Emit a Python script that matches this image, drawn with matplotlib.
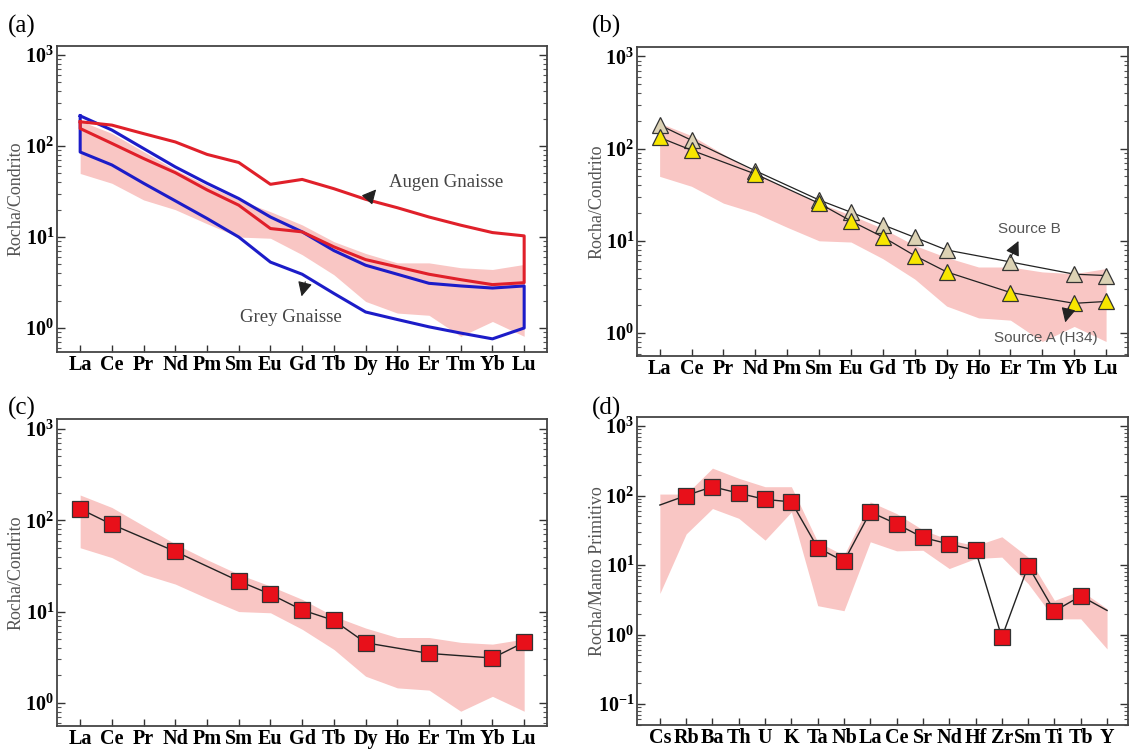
import numpy as np
import matplotlib
matplotlib.use('Agg')
import matplotlib.pyplot as plt
from matplotlib.ticker import LogLocator, NullFormatter

plt.rcParams['font.family'] = 'Liberation Serif'
plt.rcParams['mathtext.fontset'] = 'custom'
plt.rcParams['mathtext.rm'] = 'Liberation Serif'
plt.rcParams['mathtext.bf'] = 'Liberation Serif:bold'
plt.rcParams['mathtext.it'] = 'Liberation Serif:italic'

# DADOS ---------------------
ree = ['La', 'Ce', 'Pr', 'Nd', 'Pm', 'Sm', 'Eu', 'Gd', 'Tb', 'Dy', 'Ho', 'Er', 'Tm', 'Yb', 'Lu']

# campo rosa (mesmo em a, b, c)
faixa_sup = [189, 138, 87, 55, 37, 25.6, 19, 13.6, 8.9, 6.6, 5.2, 5.2, 4.6, 4.4, 5.0]
faixa_inf = [50, 39, 25.6, 20, 14, 10, 9.7, 6.4, 3.85, 1.96, 1.46, 1.38, 0.81, 1.18, 0.81]

# (a) campos dos gnaisses
augen_sup = [185, 170, 137, 111, 81, 66, 38, 43, 34, 26, 21, 16.6, 13.5, 11.2, 10.3]
augen_inf = [156, 107, 73, 51, 33, 22.4, 12.4, 11.4, 7.8, 5.65, 4.7, 3.9, 3.4, 3.0, 3.15]
grey_sup = [215, 150, 94, 59, 39, 26.5, 16.6, 11.4, 7.1, 4.9, 3.9, 3.1, 2.9, 2.75, 2.9]
grey_inf = [86, 62, 39, 25, 16, 10, 5.3, 3.9, 2.4, 1.5, 1.24, 1.03, 0.88, 0.76, 1.0]

# (b) fontes
idx_amostra = [0, 1, 3, 5, 6, 7, 8, 9, 11, 13, 14]
fonte_b = [180, 123, 57.5, 27.7, 20.4, 14.9, 10.9, 7.95, 5.9, 4.35, 4.2]
fonte_a = [132, 96, 53, 25.5, 16.4, 11, 6.9, 4.6, 2.75, 2.1, 2.2]

# (c) amostra
amostra_c = [133, 90, 45.5, 21.6, 15.5, 10.4, 8.0, 4.55, 3.48, 3.1, 4.6]

# (d) multielementar
elem = ['Cs', 'Rb', 'Ba', 'Th', 'U', 'K', 'Ta', 'Nb', 'La', 'Ce', 'Sr', 'Nd', 'Hf', 'Zr', 'Sm', 'Ti', 'Tb', 'Y']
amostra_d = [73, 100, 134, 108, 88, 81, 17.7, 11.3, 58, 39, 24.9, 20, 16.3, 0.91, 9.7, 2.17, 3.58, 2.22]
faixa_d_sup = [105, 105, 248, 177, 134, 134, 21.5, 13.8, 81, 55, 32, 23, 19, 25.5, 13, 3.1, 4.3, 2.35]
faixa_d_inf = [3.9, 28, 65, 47, 22.8, 58, 2.6, 2.2, 21.6, 16, 16.3, 8.9, 12.4, 13, 5.4, 1.68, 1.68, 0.62]

ROSA = '#f9c6c4'
VERM = '#e0202a'
AZUL = '#1c1cc8'


def estilo(ax, etiquetas, xlim, ylim, decadas, ylabel, xlab):
    ax.set_yscale('log')
    x = np.arange(len(etiquetas))
    ax.set_xticks(x)
    ax.set_xticklabels(etiquetas, fontweight='bold', fontsize=14.5)
    ax.set_xlim(*xlim)
    ax.set_ylim(*ylim)
    ax.set_yticks(decadas)
    ax.set_yticklabels([r'$\mathbf{10^{%d}}$' % int(round(np.log10(d))) for d in decadas], fontsize=14.5)
    ax.yaxis.set_minor_locator(LogLocator(base=10, subs=np.arange(2, 10), numticks=30))
    ax.yaxis.set_minor_formatter(NullFormatter())
    ax.tick_params(axis='x', direction='in', length=5, width=1, color='#333', pad=2.5)
    ax.tick_params(axis='y', which='major', direction='in', length=6, width=1, color='#333',
                   right=True, pad=2)
    ax.tick_params(axis='y', which='minor', direction='in', length=3, width=0.8, color='#555',
                   right=True)
    for s in ax.spines.values():
        s.set_color('#444')
        s.set_linewidth(1.3)
    ax.text(xlab, 0.5, ylabel, transform=ax.transAxes, rotation=90, ha='center', va='center',
            color='#555', fontsize=13)


def seta(ax, cauda, ponta):
    ax.annotate('', xy=ponta, xytext=cauda,
                arrowprops=dict(arrowstyle='-|>', color='#222', lw=0.8, mutation_scale=22))


fig = plt.figure(figsize=(11.29, 7.53), dpi=100)
ax_a = fig.add_axes([0.0505, 0.5325, 0.434, 0.4064])
ax_b = fig.add_axes([0.5642, 0.5272, 0.435, 0.410])
ax_c = fig.add_axes([0.0505, 0.0360, 0.434, 0.4077])
ax_d = fig.add_axes([0.5642, 0.0372, 0.435, 0.409])

xr = np.arange(len(ree))

# (a)
ax_a.fill_between(xr, faixa_inf, faixa_sup, color=ROSA, lw=0)
ax_a.plot(np.r_[xr, xr[::-1], xr[0]], np.r_[grey_sup, grey_inf[::-1], grey_sup[0]],
          color=AZUL, lw=2.2)
ax_a.plot(np.r_[xr, xr[::-1], xr[0]], np.r_[augen_sup, augen_inf[::-1], augen_sup[0]],
          color=VERM, lw=2.2)
seta(ax_a, (9.07, 26.2), (9.39, 35.2))
ax_a.text(9.75, 40, 'Augen Gnaisse', color='#444', fontsize=13.5, va='center')
seta(ax_a, (7.12, 3.45), (6.96, 2.08))
ax_a.text(5.03, 1.31, 'Grey Gnaisse', color='#444', fontsize=13.5, va='center')
estilo(ax_a, ree, (-0.73, 14.72), (10**-0.264, 10**3.1), [1, 10, 100, 1000], 'Rocha/Condrito', -0.084)

# (b)
ax_b.fill_between(xr, faixa_inf, faixa_sup, color=ROSA, lw=0)
xs = np.array(idx_amostra)
ax_b.plot(xs, fonte_b, color='#222', lw=0.9, marker='^', ms=11, mfc='#dcd2b4', mec='#333', mew=0.9)
ax_b.plot(xs, fonte_a, color='#222', lw=0.9, marker='^', ms=11, mfc='#f7e600', mec='#333', mew=0.9)
seta(ax_b, (10.97, 6.18), (11.29, 10.6))
ax_b.text(10.6, 13.3, 'Source B', color='#555', fontsize=11, va='center', family='Liberation Sans')
seta(ax_b, (12.85, 2.01), (12.7, 1.22))
ax_b.text(10.5, 0.876, 'Source A (H34)', color='#555', fontsize=11, va='center', family='Liberation Sans')
estilo(ax_b, ree, (-0.71, 14.69), (10**-0.249, 10**3.098), [1, 10, 100, 1000], 'Rocha/Condrito', -0.081)

# (c)
ax_c.fill_between(xr, faixa_inf, faixa_sup, color=ROSA, lw=0)
ax_c.plot(xs, amostra_c, color='#222', lw=1.0, marker='s', ms=11, mfc='#e8101a', mec='#333', mew=0.9)
estilo(ax_c, ree, (-0.73, 14.72), (10**-0.252, 10**3.11), [1, 10, 100, 1000], 'Rocha/Condrito', -0.084)

# (d)
xd = np.arange(len(elem))
ax_d.fill_between(xd, faixa_d_inf, faixa_d_sup, color=ROSA, lw=0)
ax_d.plot(xd, amostra_d, color='#222', lw=1.0, marker='s', ms=11, mfc='#e8101a', mec='#333', mew=0.9,
          markevery=list(range(1, len(elem) - 1)))
estilo(ax_d, elem, (-0.87, 17.8), (10**-1.302, 10**3.13), [0.1, 1, 10, 100, 1000],
       'Rocha/Manto Primitivo', -0.081)

for rot, (fx, fy) in zip(['(a)', '(b)', '(c)', '(d)'],
                         [(0.007, 0.965), (0.524, 0.965), (0.007, 0.458), (0.524, 0.458)]):
    fig.text(fx, fy, rot, fontsize=18, va='center')

fig.savefig('out.png', dpi=100)
